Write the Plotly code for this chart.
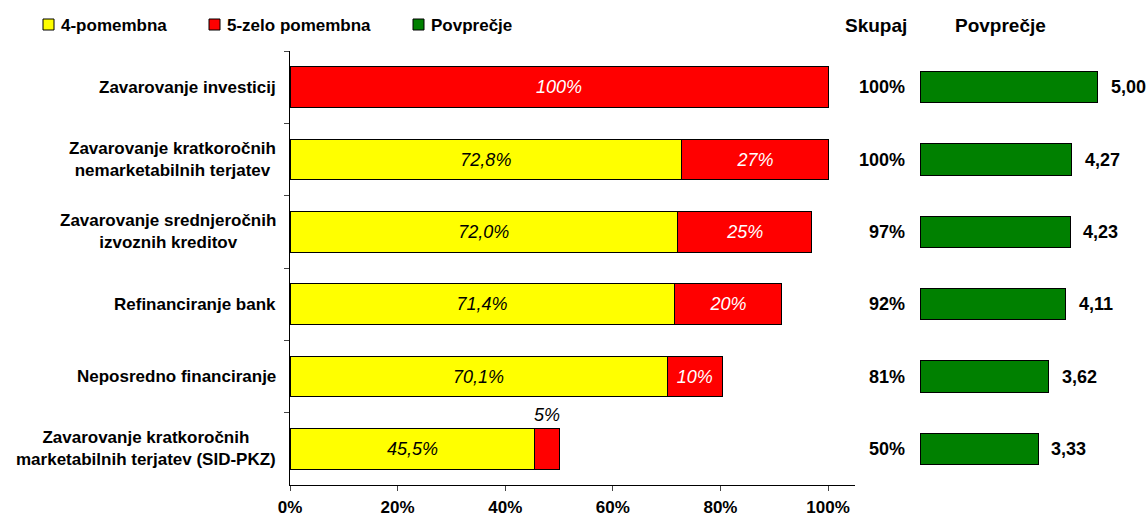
import plotly.graph_objects as go

# Categories (top to bottom) and survey shares in percent
categories = [
    "Zavarovanje investicij",
    "Zavarovanje kratkoročnih<br>nemarketabilnih terjatev",
    "Zavarovanje srednjeročnih<br>izvoznih kreditov",
    "Refinanciranje bank",
    "Neposredno financiranje",
    "Zavarovanje kratkoročnih<br>marketabilnih terjatev (SID-PKZ)",
]
pomembna_4 = [0.0, 72.8, 72.0, 71.4, 70.1, 45.5]
zelo_pomembna_5 = [100.0, 27.2, 25.0, 20.0, 10.2, 4.5]
skupaj = [100, 100, 97, 92, 81, 50]
povprecje = [5.00, 4.27, 4.23, 4.11, 3.62, 3.33]

series_names = ["4-pomembna", "5-zelo pomembna", "Povprečje"]
series_colors = ["#FFFF00", "#FF0000", "#008000"]
x_ticks = [0, 20, 40, 60, 80, 100]

W, H = 1146, 520
FONT = "Liberation Sans, Arial, sans-serif"


def px(x):
    return x / W


def py(y):
    return 1 - y / H


def pct0(v):
    return f"{int(v + 0.5)}%"


def pct1(v):
    return f"{v:.1f}".replace(".", ",") + "%"


def dec2(v):
    return f"{v:.2f}".replace(".", ",")


y_dom = [py(485), py(51)]
n = len(categories)
y_range = [n - 0.5, -0.5]

fig = go.Figure()

# stacked bars: text hidden on zero-length or too-narrow segments
yellow_text = [pct1(v) if v > 0 else "" for v in pomembna_4]
red_text = [pct0(v) if v >= 8 else "" for v in zelo_pomembna_5]

fig.add_trace(go.Bar(
    y=categories, x=pomembna_4, orientation="h", name=series_names[0],
    marker=dict(color=series_colors[0], line=dict(color="black", width=1)),
    width=0.56, text=yellow_text, textposition="inside",
    insidetextanchor="middle", textangle=0, constraintext="none",
    textfont=dict(family=FONT, size=18, style="italic", color="black"),
    xaxis="x", yaxis="y", showlegend=False,
))
fig.add_trace(go.Bar(
    y=categories, x=zelo_pomembna_5, orientation="h", name=series_names[1],
    marker=dict(color=series_colors[1], line=dict(color="black", width=1)),
    width=0.56, text=red_text, textposition="inside",
    insidetextanchor="middle", textangle=0, constraintext="none",
    textfont=dict(family=FONT, size=18, style="italic", color="white"),
    xaxis="x", yaxis="y", showlegend=False,
))

# average score bars
fig.add_trace(go.Bar(
    y=categories, x=povprecje, orientation="h", name=series_names[2],
    marker=dict(color=series_colors[2], line=dict(color="black", width=1)),
    width=0.43, xaxis="x2", yaxis="y2", showlegend=False,
))

annotations = []

# average values, right of each green bar
for cat, v in zip(categories, povprecje):
    annotations.append(dict(
        x=v, y=cat, xref="x2", yref="y2", text=dec2(v),
        showarrow=False, xanchor="left", yanchor="middle", xshift=11,
        font=dict(family=FONT, size=18, weight="bold", color="black"),
    ))

# labels for narrow red segments, placed above the bar
for cat, a, b in zip(categories, pomembna_4, zelo_pomembna_5):
    if 0 < b < 8:
        annotations.append(dict(
            x=a + b / 2, y=cat, xref="x", yref="y", text=pct0(b),
            showarrow=False, yshift=34, xanchor="center",
            font=dict(family=FONT, size=18, style="italic", color="black"),
        ))

# category labels (centered lines, right-aligned block)
for cat in categories:
    annotations.append(dict(
        x=px(278), y=cat, xref="paper", yref="y", text=cat,
        showarrow=False, xanchor="right", yanchor="middle", align="center",
        font=dict(family=FONT, size=17, weight="bold", color="black"),
    ))

# totals column
for cat, s in zip(categories, skupaj):
    annotations.append(dict(
        x=px(907), y=cat, xref="paper", yref="y", text=f"{s}%",
        showarrow=False, xanchor="right", yanchor="middle",
        font=dict(family=FONT, size=18, weight="bold", color="black"),
    ))

# column headers
for text, xc in [("Skupaj", 876), ("Povprečje", 1000)]:
    annotations.append(dict(
        x=px(xc), y=py(25), xref="paper", yref="paper", text=text,
        showarrow=False, xanchor="center", yanchor="middle",
        font=dict(family=FONT, size=19, weight="bold", color="black"),
    ))

# legend: swatch + label
shapes = []
legend_x = [43, 209, 413]
for name, color, lx in zip(series_names, series_colors, legend_x):
    shapes.append(dict(
        type="rect", xref="paper", yref="paper",
        x0=px(lx), x1=px(lx + 11), y0=py(30), y1=py(19),
        fillcolor=color, line=dict(color="black", width=1),
    ))
    annotations.append(dict(
        x=px(lx + 16), y=py(25), xref="paper", yref="paper", text=name,
        showarrow=False, xanchor="left", yanchor="middle",
        font=dict(family=FONT, size=17, weight="bold", color="black"),
    ))

fig.update_layout(
    template="none",
    width=W, height=H,
    margin=dict(l=0, r=0, t=0, b=0),
    paper_bgcolor="white", plot_bgcolor="white",
    barmode="stack", bargap=0.44,
    showlegend=False,
    xaxis=dict(
        domain=[px(290), px(855)], range=[0, 105],
        tickvals=x_ticks, ticktext=[f"{t}%" for t in x_ticks],
        showgrid=False, zeroline=False, showline=True, linecolor="black",
        linewidth=1, ticks="outside", ticklen=5, tickcolor="#444",
        tickfont=dict(family=FONT, size=17, weight="bold", color="black"),
        ticklabelstandoff=2, automargin=False, fixedrange=True,
    ),
    yaxis=dict(
        domain=y_dom, categoryorder="array", categoryarray=categories,
        range=y_range, autorange=False, showticklabels=False,
        showgrid=False, zeroline=False, showline=True, linecolor="black",
        linewidth=1, ticks="outside", ticklen=5, tickcolor="#444",
        tickson="boundaries", automargin=False,
    ),
    xaxis2=dict(
        domain=[px(920), 1.0], range=[0, 226 / 35.5], anchor="y2",
        visible=False, showgrid=False, zeroline=False,
    ),
    yaxis2=dict(
        domain=y_dom, anchor="x2", categoryorder="array",
        categoryarray=categories, range=y_range, autorange=False,
        visible=False, showgrid=False, zeroline=False,
    ),
    annotations=annotations,
    shapes=shapes,
    font=dict(family=FONT),
)

fig.write_html("out.html")
